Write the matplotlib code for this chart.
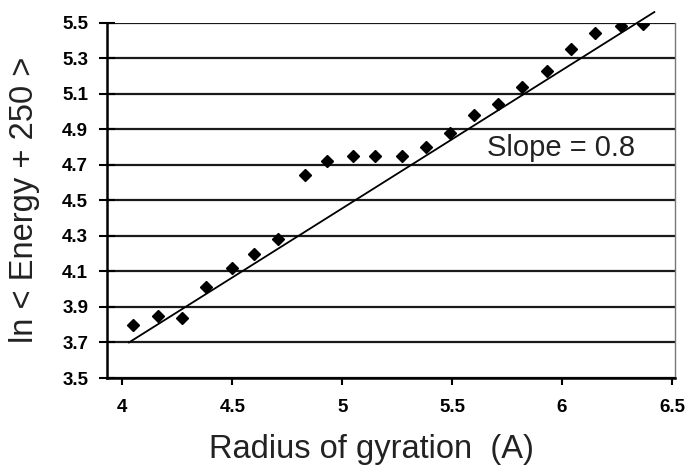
import matplotlib
matplotlib.use('Agg')
import matplotlib.pyplot as plt
import numpy as np

#%% data

radius = [4.05, 4.16, 4.27, 4.38, 4.50, 4.60, 4.71, 4.83, 4.93, 5.05, 5.15,
          5.27, 5.38, 5.49, 5.60, 5.71, 5.82, 5.93, 6.04, 6.15, 6.27, 6.37]
ln_energy = [3.80, 3.85, 3.84, 4.01, 4.12, 4.20, 4.28, 4.64, 4.72, 4.75, 4.75,
             4.75, 4.80, 4.88, 4.98, 5.04, 5.14, 5.23, 5.35, 5.44, 5.48, 5.49]

fit_x = [4.03, 6.42]
fit_y = [3.70, 5.56]

x_ticks = [4, 4.5, 5, 5.5, 6, 6.5]
x_tick_labels = ['4', '4.5', '5', '5.5', '6', '6.5']
y_ticks = [3.5, 3.7, 3.9, 4.1, 4.3, 4.5, 4.7, 4.9, 5.1, 5.3, 5.5]

#%% figure

W, H = 689, 465
fig = plt.figure(figsize=(W / 100, H / 100), dpi=100)
ax = fig.add_axes([107 / W, 1 - 378 / H, (675 - 107) / W, (378 - 22.7) / H])

# horizontal gridlines like the excel chart
for yv in y_ticks:
    ax.axhline(yv, color='#1a1a1a', lw=1.6, zorder=1)

ax.plot(fit_x, fit_y, color='black', lw=1.3, clip_on=False, zorder=2)
ax.plot(radius, ln_energy, linestyle='none', marker='D', markersize=6.5,
        color='black', zorder=3)

ax.set_xlim(3.93, 6.514)
ax.set_ylim(3.5, 5.5)

tick_font = dict(family=['Liberation Sans Narrow', 'Liberation Sans', 'DejaVu Sans'],
                 weight='bold', size=13.5)
ax.set_xticks(x_ticks)
ax.set_xticklabels(x_tick_labels, **tick_font)
ax.set_yticks(y_ticks)
ax.set_yticklabels(['%.1f' % v for v in y_ticks], **tick_font)
ax.tick_params(axis='y', direction='inout', length=11, width=1.5, pad=8)
ax.tick_params(axis='x', direction='out', length=5, width=1.5, pad=10)

ax.spines['left'].set_linewidth(1.8)
ax.spines['bottom'].set_linewidth(1.8)
ax.spines['top'].set_visible(False)
ax.spines['right'].set_color('#777777')
ax.spines['right'].set_linewidth(1.0)

label_font = ['Liberation Sans', 'DejaVu Sans']
ax.text(5.66, 4.75, 'Slope = 0.8', fontsize=21, family=label_font,
        color='#222222', va='baseline', ha='left', zorder=4)

fig.text(371 / W, 1 - 458 / H, 'Radius of gyration  (A)', fontsize=23.5,
         family=label_font, ha='center', va='baseline', color='#222222')
fig.text(25 / W, 1 - 200 / H, 'ln < Energy + 250 >', fontsize=23.5,
         family=label_font, ha='center', va='center', rotation=90,
         color='#222222')

fig.savefig('out.png', dpi=100)
